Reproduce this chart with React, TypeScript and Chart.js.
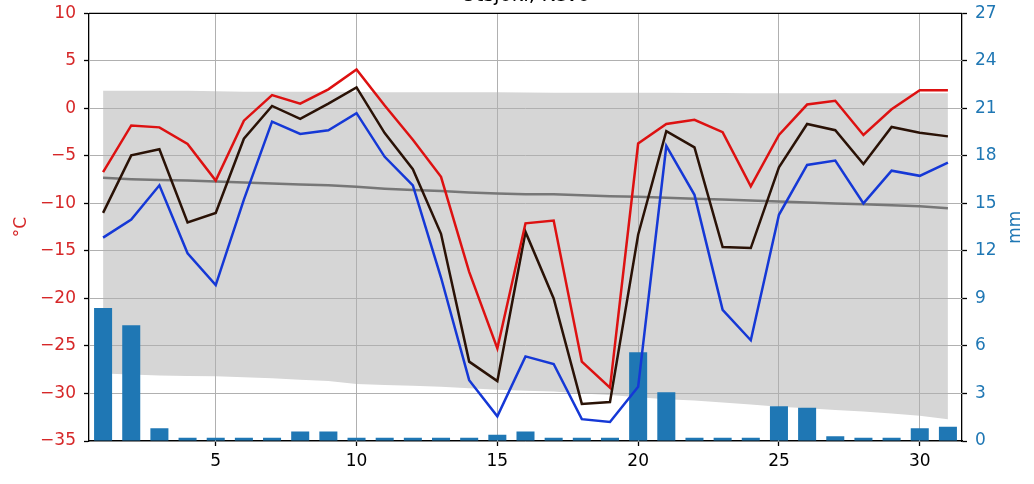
import React, { useEffect, useRef } from 'react';
import { Chart, registerables } from 'chart.js';

Chart.register(...registerables);

const FONT = "'DejaVu Sans', sans-serif";

const days = [1, 2, 3, 4, 5, 6, 7, 8, 9, 10, 11, 12, 13, 14, 15, 16, 17, 18, 19, 20, 21, 22, 23, 24, 25, 26, 27, 28, 29, 30, 31];
const xTicks = [5, 10, 15, 20, 25, 30];

const tMax = [-6.7, -1.8, -2.0, -3.75, -7.6, -1.3, 1.4, 0.5, 2.0, 4.1, 0.3, -3.3, -7.2, -17.2, -25.25, -12.1, -11.8, -26.65, -29.4, -3.7, -1.65, -1.2, -2.5, -8.2, -2.8, 0.4, 0.8, -2.8, -0.1, 1.9, 1.9];
const tMean = [-11.0, -4.95, -4.3, -12.0, -11.0, -3.2, 0.25, -1.1, 0.5, 2.2, -2.6, -6.4, -13.2, -26.65, -28.7, -13.0, -20.0, -31.1, -30.9, -13.3, -2.4, -4.1, -14.6, -14.7, -6.2, -1.65, -2.3, -5.85, -1.96, -2.56, -2.95];
const tMin = [-13.6, -11.7, -8.1, -15.25, -18.6, -9.6, -1.4, -2.7, -2.3, -0.5, -5.1, -8.1, -17.8, -28.6, -32.4, -26.1, -26.9, -32.7, -33.0, -29.3, -3.96, -9.1, -21.2, -24.4, -11.2, -5.96, -5.5, -10.0, -6.56, -7.1, -5.7];
const normMean = [-7.3, -7.45, -7.55, -7.6, -7.7, -7.8, -7.9, -8.0, -8.1, -8.25, -8.45, -8.6, -8.7, -8.85, -8.95, -9.05, -9.05, -9.15, -9.25, -9.3, -9.4, -9.5, -9.6, -9.7, -9.8, -9.9, -10.0, -10.1, -10.2, -10.3, -10.5];
const normUpper = [1.85, 1.85, 1.85, 1.85, 1.8, 1.75, 1.75, 1.75, 1.75, 1.72, 1.7, 1.7, 1.7, 1.7, 1.7, 1.68, 1.65, 1.65, 1.65, 1.65, 1.63, 1.62, 1.62, 1.6, 1.6, 1.6, 1.6, 1.6, 1.58, 1.58, 1.58];
const normLower = [-27.9, -28.0, -28.1, -28.15, -28.2, -28.3, -28.4, -28.55, -28.7, -29.0, -29.1, -29.2, -29.3, -29.45, -29.6, -29.7, -29.8, -30.0, -30.15, -30.4, -30.6, -30.75, -30.95, -31.15, -31.4, -31.55, -31.75, -31.9, -32.1, -32.35, -32.7];
const precip = [8.4, 7.3, 0.8, 0.2, 0.2, 0.2, 0.2, 0.6, 0.6, 0.2, 0.2, 0.2, 0.2, 0.2, 0.4, 0.6, 0.2, 0.2, 0.2, 5.6, 3.07, 0.2, 0.2, 0.2, 2.2, 2.1, 0.3, 0.2, 0.2, 0.8, 0.9];

const TITLE = 'Utsjoki, Kevo';
const LEFT_LABEL = '°C';
const RIGHT_LABEL = 'mm';

const TAB_RED = '#d62728';
const TAB_BLUE = '#1f77b4';
const GRID = '#b0b0b0';
const BAND_INDEX = 5;

const pts = (arr: number[]) => days.map((d, i) => ({ x: d, y: arr[i] }));
const fmt = (v: number) => (v < 0 ? '\u2212' + Math.abs(v) : String(v));
const align = (p: number) => Math.round(p - 0.5) + 0.5;

const gridOverBandPlugin = {
  id: 'gridOverBand',
  afterDatasetDraw(chart: any, args: any) {
    if (args.index !== BAND_INDEX) return;
    const { ctx, chartArea, scales } = chart;
    const { left, right, top, bottom } = chartArea;
    ctx.save();
    ctx.beginPath();
    ctx.rect(left, top, right - left, bottom - top);
    ctx.clip();
    ctx.strokeStyle = GRID;
    ctx.lineWidth = 1;
    ctx.beginPath();
    for (const t of scales.x.ticks) {
      const px = align(scales.x.getPixelForValue(t.value));
      ctx.moveTo(px, top);
      ctx.lineTo(px, bottom);
    }
    for (const t of scales.y.ticks) {
      const py = align(scales.y.getPixelForValue(t.value));
      ctx.moveTo(left, py);
      ctx.lineTo(right, py);
    }
    ctx.stroke();
    ctx.restore();
  },
};

const framePlugin = {
  id: 'frameAndRightLabel',
  afterDraw(chart: any) {
    const { ctx, chartArea } = chart;
    const { left, right, top, bottom } = chartArea;
    ctx.save();
    ctx.strokeStyle = '#000';
    ctx.lineWidth = 1.3;
    ctx.beginPath();
    ctx.moveTo(left, top);
    ctx.lineTo(right, top);
    ctx.stroke();
    ctx.font = `17px ${FONT}`;
    ctx.fillStyle = TAB_BLUE;
    ctx.translate(1016, (top + bottom) / 2);
    ctx.rotate(-Math.PI / 2);
    ctx.textAlign = 'center';
    ctx.textBaseline = 'middle';
    ctx.fillText(RIGHT_LABEL, 0, 0);
    ctx.restore();
  },
};

export default function App() {
  const ref = useRef<HTMLCanvasElement>(null);

  useEffect(() => {
    if (!ref.current) return;
    const lineBase = { type: 'line' as const, pointRadius: 0, tension: 0, fill: false, yAxisID: 'y', xAxisID: 'x' };
    const chart = new Chart(ref.current, {
      type: 'bar',
      data: {
        datasets: [
          { ...lineBase, label: 'Max', data: pts(tMax), borderColor: '#dd1111', borderWidth: 2.5, order: 0 },
          { ...lineBase, label: 'Mean', data: pts(tMean), borderColor: '#2a1206', borderWidth: 2.5, order: 1 },
          { ...lineBase, label: 'Min', data: pts(tMin), borderColor: '#1538d6', borderWidth: 2.5, order: 2 },
          { ...lineBase, label: 'Normal mean', data: pts(normMean), borderColor: '#777777', borderWidth: 2.5, order: 3 },
          {
            type: 'bar', label: 'Precipitation', data: pts(precip), backgroundColor: TAB_BLUE,
            yAxisID: 'y1', xAxisID: 'x', barPercentage: 0.64, categoryPercentage: 1, order: 4,
          } as any,
          {
            ...lineBase, label: 'Upper', data: pts(normUpper), borderColor: 'rgba(0,0,0,0)', borderWidth: 0,
            fill: '+1', backgroundColor: '#d6d6d6', order: 5,
          },
          { ...lineBase, label: 'Lower', data: pts(normLower), borderColor: 'rgba(0,0,0,0)', borderWidth: 0, order: 6 },
        ] as any,
      },
      options: {
        animation: false,
        responsive: false,
        devicePixelRatio: 1,
        layout: { padding: 0 },
        plugins: {
          legend: { display: false },
          tooltip: { enabled: false },
          title: {
            display: true,
            text: TITLE,
            fullSize: false,
            color: '#000',
            font: { family: FONT, size: 20, weight: 'normal' },
            padding: { top: 0, bottom: 5.3 },
          },
        },
        scales: {
          x: {
            type: 'linear',
            min: 0.5,
            max: 31.5,
            offset: false,
            afterBuildTicks: (s: any) => {
              s.ticks = xTicks.map((v) => ({ value: v }));
            },
            afterFit: (s: any) => {
              s.height = 43;
            },
            ticks: {
              autoSkip: false,
              maxRotation: 0,
              color: '#000',
              padding: 5,
              font: { family: FONT, size: 17 },
              callback: (v: any) => String(v),
            },
            grid: { offset: false, color: GRID, lineWidth: 1, tickLength: 5, tickColor: '#000', tickWidth: 1.3 },
            border: { color: '#000', width: 1.3 },
          },
          y: {
            type: 'linear',
            position: 'left',
            min: -35,
            max: 10,
            afterFit: (s: any) => {
              s.width = 89;
            },
            ticks: {
              stepSize: 5,
              color: TAB_RED,
              padding: 8,
              font: { family: FONT, size: 17 },
              callback: (v: any) => fmt(Number(v)),
            },
            grid: { color: GRID, lineWidth: 1, tickLength: 5, tickColor: '#000', tickWidth: 1.3 },
            border: { color: '#000', width: 1.3 },
            title: {
              display: true,
              text: LEFT_LABEL,
              color: TAB_RED,
              font: { family: FONT, size: 17 },
              padding: { top: 11, bottom: 0 },
            },
          },
          y1: {
            type: 'linear',
            position: 'right',
            min: 0,
            max: 27,
            afterFit: (s: any) => {
              s.width = 72;
            },
            ticks: {
              stepSize: 3,
              color: TAB_BLUE,
              padding: 8,
              font: { family: FONT, size: 17 },
            },
            grid: { drawOnChartArea: false, tickLength: 5, tickColor: '#000', tickWidth: 1.3 },
            border: { color: '#000', width: 1.3 },
          },
        },
      } as any,
      plugins: [gridOverBandPlugin, framePlugin],
    });
    return () => chart.destroy();
  }, []);

  return (
    <canvas
      ref={ref}
      width={1034}
      height={500}
      style={{ position: 'absolute', left: 0, top: -16, width: 1034, height: 500 }}
    />
  );
}
